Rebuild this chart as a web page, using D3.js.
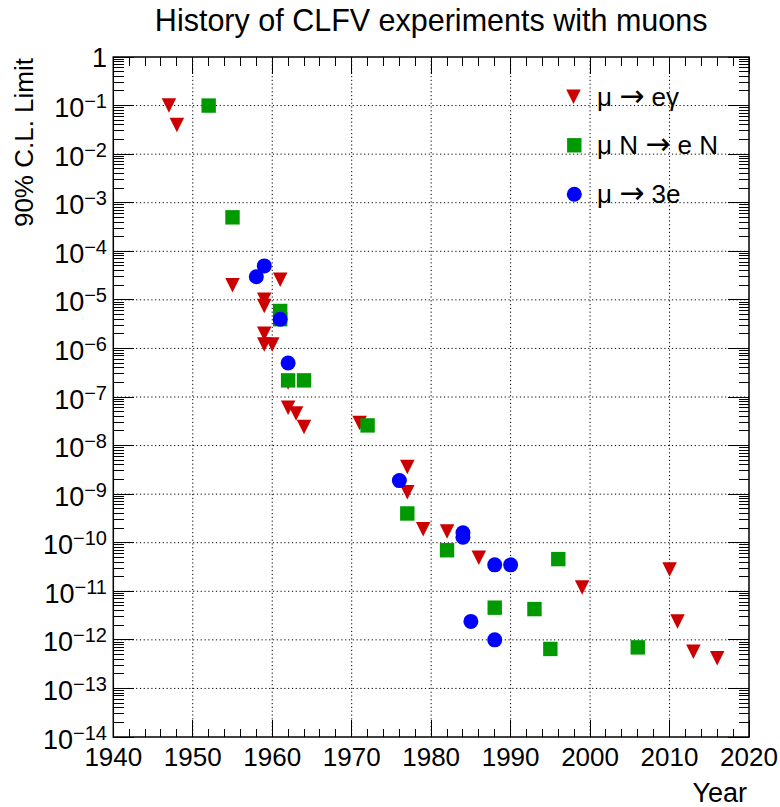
<!DOCTYPE html>
<html>
<head>
<meta charset="utf-8">
<script src="https://cdn.jsdelivr.net/npm/d3@7"></script>
<style>
  body { margin: 0; background: #fff; }
  svg { font-family: "Liberation Sans", Arial, sans-serif; }
  .grid line { stroke: #000; stroke-width: 1; stroke-dasharray: 1.2,2.6; }
</style>
</head>
<body>
<div id="chart"></div>
<script>
// mu -> e gamma
const megYears  = [1947, 1948, 1955, 1959, 1959, 1959, 1959, 1960, 1961, 1962, 1962, 1963, 1964, 1971, 1977, 1977, 1979, 1982, 1986, 1999, 2010, 2011, 2013, 2016];
const megLimits = [1e-1, 4e-2, 2e-5, 1e-5, 7.5e-6, 2e-6, 1.2e-6, 1.2e-6, 2.6e-5, 2e-7, 6e-8, 4.6e-8, 2.4e-8, 2.9e-8, 3.6e-9, 1.1e-9, 1.9e-10, 1.7e-10, 4.9e-11, 1.2e-11, 2.8e-11, 2.4e-12, 5.7e-13, 4.2e-13];
// mu N -> e N
const mecYears  = [1952, 1955, 1961, 1961, 1962, 1964, 1972, 1977, 1982, 1988, 1993, 1995, 1996, 2006];
const mecLimits = [1e-1, 5e-4, 5.9e-6, 4e-6, 2.2e-7, 2.2e-7, 2.6e-8, 4e-10, 7e-11, 4.6e-12, 4.3e-12, 6.5e-13, 4.6e-11, 7e-13];
// mu -> 3e
const m3eYears  = [1958, 1959, 1961, 1962, 1976, 1984, 1984, 1985, 1988, 1988, 1990];
const m3eLimits = [3e-5, 5e-5, 4e-6, 5e-7, 1.9e-9, 1.6e-10, 1.3e-10, 2.4e-12, 3.5e-11, 1e-12, 3.5e-11];

const xTicks = d3.range(1940, 2021, 10);
const yExponents = d3.range(-14, 1);

const legendLabels = [
  ["μ ", "→", " eγ"],
  ["μ N ", "→", " e N"],
  ["μ ", "→", " 3e"]
];

const W = 780, H = 807;
const pLeft = 113.3, pRight = 749, pTop = 57, pBottom = 737;

const x = d3.scaleLinear().domain([1940, 2020]).range([pLeft, pRight]);
const y = d3.scaleLog().domain([1e-14, 1]).range([pBottom, pTop]);

const svg = d3.select("#chart").append("svg").attr("width", W).attr("height", H);

// grid
const grid = svg.append("g").attr("class", "grid");
grid.selectAll("line.gx").data(xTicks.slice(1, -1)).enter().append("line")
  .attr("x1", d => x(d)).attr("x2", d => x(d)).attr("y1", pTop).attr("y2", pBottom);
grid.selectAll("line.gy").data(yExponents.slice(1, -1)).enter().append("line")
  .attr("x1", pLeft).attr("x2", pRight).attr("y1", d => y(Math.pow(10, d))).attr("y2", d => y(Math.pow(10, d)));

// ticks
const minorX = d3.range(1940, 2021, 2).filter(d => d % 10 !== 0);
const minorY = [];
yExponents.slice(0, -1).forEach(e => { for (let k = 2; k <= 9; k++) minorY.push(k * Math.pow(10, e)); });
const majorY = yExponents.map(e => Math.pow(10, e));

const ticks = svg.append("g").attr("stroke", "#000").attr("stroke-width", 1).attr("shape-rendering", "crispEdges");
function xt(vals, len) {
  vals.forEach(v => {
    ticks.append("line").attr("x1", x(v)).attr("x2", x(v)).attr("y1", pBottom).attr("y2", pBottom - len);
    ticks.append("line").attr("x1", x(v)).attr("x2", x(v)).attr("y1", pTop).attr("y2", pTop + len);
  });
}
function yt(vals, len) {
  vals.forEach(v => {
    ticks.append("line").attr("x1", pLeft).attr("x2", pLeft + len).attr("y1", y(v)).attr("y2", y(v));
    ticks.append("line").attr("x1", pRight).attr("x2", pRight - len).attr("y1", y(v)).attr("y2", y(v));
  });
}
xt(xTicks, 17);
xt(minorX, 8.5);
yt(majorY, 21);
yt(minorY, 10.5);

// frame
svg.append("rect").attr("x", pLeft).attr("y", pTop).attr("width", pRight - pLeft).attr("height", pBottom - pTop)
  .attr("fill", "none").attr("stroke", "#000").attr("stroke-width", 1.5);

// x labels
svg.append("g").selectAll("text").data(xTicks).enter().append("text")
  .attr("x", d => x(d)).attr("y", 766).attr("text-anchor", "middle")
  .attr("font-size", 26).text(d => d);

// y labels
const yl = svg.append("g").selectAll("text").data(yExponents).enter().append("text")
  .attr("x", 107).attr("y", d => y(Math.pow(10, d)) + 11.5).attr("text-anchor", "end")
  .attr("font-size", 27);
yl.each(function(d) {
  const t = d3.select(this);
  if (d === 0) { t.attr("y", y(1) + 10).text("1"); return; }
  t.append("tspan").text("10");
  t.append("tspan").attr("font-size", 20).attr("dy", -9).text("−" + (-d));
});

// markers
const red = "#cc0000", green = "#009900", blue = "#0000ff";
const tri = (cx, cy, s) => `M${cx - s / 2},${cy - s / 2}L${cx + s / 2},${cy - s / 2}L${cx},${cy + s / 2}Z`;

svg.append("g").selectAll("path").data(d3.zip(megYears, megLimits)).enter().append("path")
  .attr("d", d => tri(x(d[0]), y(d[1]), 14.5)).attr("fill", red);
svg.append("g").selectAll("rect").data(d3.zip(mecYears, mecLimits)).enter().append("rect")
  .attr("x", d => x(d[0]) - 7.2).attr("y", d => y(d[1]) - 7.2).attr("width", 14.4).attr("height", 14.4).attr("fill", green);
svg.append("g").selectAll("circle").data(d3.zip(m3eYears, m3eLimits)).enter().append("circle")
  .attr("cx", d => x(d[0])).attr("cy", d => y(d[1])).attr("r", 7.5).attr("fill", blue);

// legend
const legY = [96.7, 145.3, 194.3];
const lg = svg.append("g");
lg.append("path").attr("d", tri(573.5, legY[0], 14.5)).attr("fill", red);
lg.append("rect").attr("x", 574.3 - 7.2).attr("y", legY[1] - 7.2).attr("width", 14.4).attr("height", 14.4).attr("fill", green);
lg.append("circle").attr("cx", 574.3).attr("cy", legY[2]).attr("r", 7.5).attr("fill", blue);
legendLabels.forEach((l, i) => {
  const t = lg.append("text").attr("x", 597).attr("y", legY[i] + 9).attr("font-size", 26)
    .attr("xml:space", "preserve");
  t.append("tspan").text(l[0]);
  t.append("tspan").attr("font-family", "DejaVu Sans").attr("font-size", 30).text(l[1]);
  t.append("tspan").text(l[2]);
});

// titles
svg.append("text").attr("x", (pLeft + pRight) / 2).attr("y", 31).attr("text-anchor", "middle")
  .attr("font-size", 30.5).text("History of CLFV experiments with muons");
svg.append("text").attr("transform", "translate(33,58) rotate(-90)").attr("text-anchor", "end")
  .attr("font-size", 26).text("90% C.L. Limit");
svg.append("text").attr("x", 747).attr("y", 802).attr("text-anchor", "end")
  .attr("font-size", 27).text("Year");
</script>
</body>
</html>
